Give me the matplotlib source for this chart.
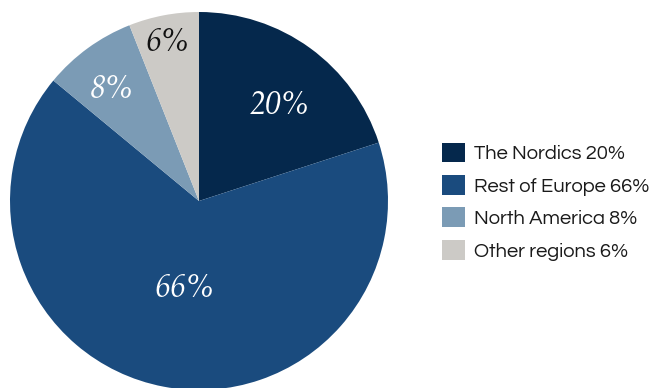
import matplotlib
matplotlib.use("Agg")
import matplotlib.pyplot as plt

# Revenue share by region
categories = ["The Nordics", "Rest of Europe", "North America", "Other regions"]
shares = [20, 66, 8, 6]
colors = ["#05284c", "#1a4b7e", "#7b9bb5", "#cccac6"]
label_colors = ["white", "white", "white", "#111111"]
# baseline anchor of each percentage label, in units of the pie radius
label_xy = [(0.429, 0.460), (-0.077, -0.508), (-0.458, 0.545), (-0.167, 0.794)]

W, H = 660, 388
fig = plt.figure(figsize=(W / 100, H / 100), dpi=100)

# pie centre and radius in pixels (from top-left)
cx, cy, R = 199, 201, 189
ax = fig.add_axes([(cx - R) / W, (H - cy - R) / H, 2 * R / W, 2 * R / H])
wedges, _ = ax.pie(shares, colors=colors, startangle=90, counterclock=False,
                   radius=1, wedgeprops=dict(linewidth=0))
ax.set_xlim(-1, 1)
ax.set_ylim(-1, 1)
ax.set_aspect("auto")
ax.axis("off")

for val, col, (x, y) in zip(shares, label_colors, label_xy):
    ax.text(x, y, f"{val}%", ha="center", va="baseline", color=col, fontsize=23,
            family=["TeX Gyre Pagella", "Liberation Serif"], style="italic")

fs = 14.5
fs_px = fs * 100 / 72
leg = fig.legend(wedges, [f"{c} {v}%" for c, v in zip(categories, shares)],
                 loc="upper left", bbox_to_anchor=(442 / W, 1 - 142.5 / H),
                 frameon=False, borderpad=0, borderaxespad=0,
                 handlelength=23 / fs_px, handleheight=23 / fs_px,
                 handletextpad=0.45, labelspacing=0.58,
                 prop=dict(family=["Questrial", "Lato"], size=fs))
for t in leg.get_texts():
    t.set_color("#1a1a1a")

fig.savefig("out.png", dpi=100)
